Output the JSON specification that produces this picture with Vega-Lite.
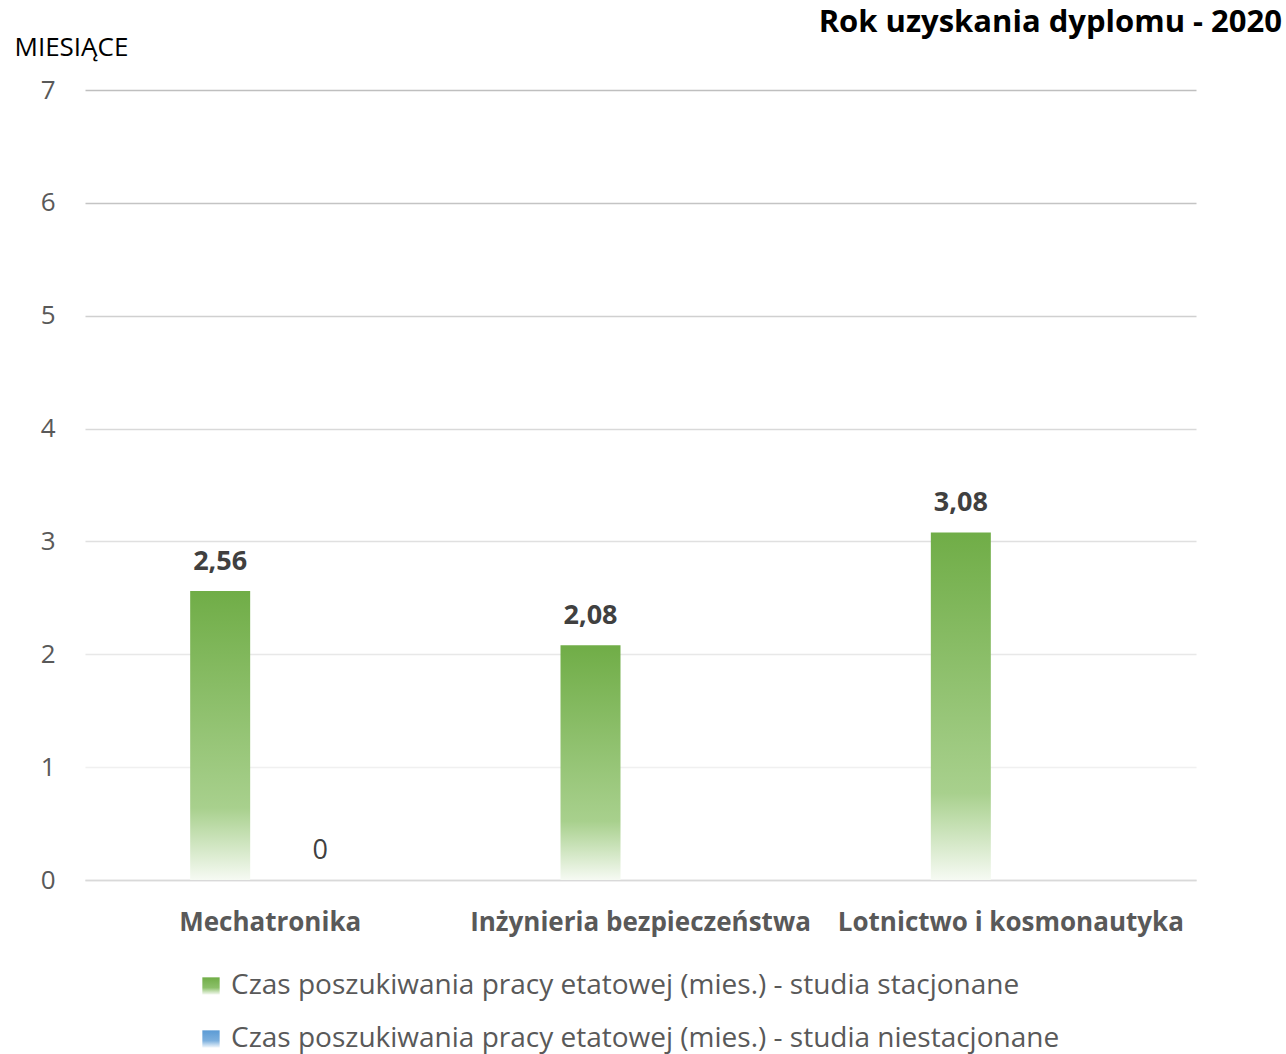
{
  "$schema": "https://vega.github.io/schema/vega-lite/v6.json",
  "width": 1111,
  "height": 790,
  "autosize": {"type": "none"},
  "padding": {"left": 85, "top": 90, "right": 90, "bottom": 174},
  "background": "white",
  "config": {
    "font": "Open Sans",
    "view": {"stroke": null},
    "locale": {"number": {"decimal": ",", "thousands": " ", "grouping": [3], "currency": ["", ""]}}
  },
  "title": {
    "text": "Rok uzyskania dyplomu - 2020",
    "anchor": "end",
    "frame": "group",
    "dx": 86,
    "fontSize": 31,
    "fontWeight": "bold",
    "color": "#000000",
    "font": "Open Sans",
    "offset": -5
  },
  "resolve": {"scale": {"shape": "independent"}, "legend": {"shape": "independent"}},
  "data": {
    "values": [
      {"kierunek": "Mechatronika", "seria": "Czas poszukiwania pracy etatowej (mies.) - studia stacjonane", "wartosc": 2.56},
      {"kierunek": "Mechatronika", "seria": "Czas poszukiwania pracy etatowej (mies.) - studia niestacjonane", "wartosc": 0},
      {"kierunek": "Inżynieria bezpieczeństwa", "seria": "Czas poszukiwania pracy etatowej (mies.) - studia stacjonane", "wartosc": 2.08},
      {"kierunek": "Lotnictwo i kosmonautyka", "seria": "Czas poszukiwania pracy etatowej (mies.) - studia stacjonane", "wartosc": 3.08}
    ]
  },
  "encoding": {
    "x": {
      "field": "kierunek",
      "type": "nominal",
      "sort": ["Mechatronika", "Inżynieria bezpieczeństwa", "Lotnictwo i kosmonautyka"],
      "scale": {"paddingInner": 0.46, "paddingOuter": 0.23},
      "axis": {
        "title": null,
        "labelAngle": 0,
        "labelFontSize": 26,
        "labelFontWeight": "bold",
        "labelColor": "#595959",
        "labelPadding": 29,
        "labelLimit": 0,
        "ticks": false,
        "domainColor": "#d9d9d9",
        "domainWidth": 1.5,
        "grid": false
      }
    },
    "xOffset": {
      "field": "seria",
      "type": "nominal",
      "sort": ["Czas poszukiwania pracy etatowej (mies.) - studia stacjonane", "Czas poszukiwania pracy etatowej (mies.) - studia niestacjonane"],
      "scale": {"paddingInner": 0.4, "paddingOuter": 0.2}
    },
    "y": {
      "field": "wartosc",
      "type": "quantitative",
      "scale": {"domain": [0, 7], "nice": false},
      "axis": {
        "values": [0, 1, 2, 3, 4, 5, 6, 7],
        "title": "MIESIĄCE",
        "titleAngle": 0,
        "titleAlign": "left",
        "titleBaseline": "middle",
        "titleX": -71,
        "titleY": -43,
        "titleFontSize": 26,
        "titleFontWeight": "normal",
        "titleColor": "#000000",
        "labelFontSize": 26,
        "labelColor": "#595959",
        "labelPadding": 30,
        "ticks": false,
        "domain": false,
        "gridColor": {
          "condition": [
            {"test": "datum.value == 7", "value": "#bfbfbf"},
            {"test": "datum.value == 6", "value": "#c4c4c4"},
            {"test": "datum.value == 5", "value": "#d0d0d0"},
            {"test": "datum.value == 4", "value": "#d9d9d9"},
            {"test": "datum.value == 3", "value": "#e0e0e0"},
            {"test": "datum.value == 2", "value": "#e8e8e8"},
            {"test": "datum.value == 1", "value": "#f0f0f0"}
          ],
          "value": "#d9d9d9"
        },
        "gridWidth": 1.5
      }
    }
  },
  "layer": [
    {
      "mark": {"type": "bar"},
      "encoding": {
        "fill": {
          "condition": {
            "test": "datum.seria == 'Czas poszukiwania pracy etatowej (mies.) - studia stacjonane'",
            "value": {"gradient": "linear", "x1": 0, "y1": 0, "x2": 0, "y2": 1, "stops": [{"offset": 0, "color": "#70AD47"}, {"offset": 0.75, "color": "#A8D08D"}, {"offset": 1, "color": "#F6FAF3"}]}
          },
          "value": {"gradient": "linear", "x1": 0, "y1": 0, "x2": 0, "y2": 1, "stops": [{"offset": 0, "color": "#5B9BD5"}, {"offset": 0.75, "color": "#9DC3E6"}, {"offset": 1, "color": "#F3F8FC"}]}
        }
      }
    },
    {
      "transform": [{"filter": "datum.seria == 'Czas poszukiwania pracy etatowej (mies.) - studia stacjonane'"}],
      "mark": {
        "type": "point",
        "filled": true,
        "opacity": 0,
        "strokeWidth": 0,
        "fill": {"gradient": "linear", "x1": 0, "y1": 0, "x2": 0, "y2": 1, "stops": [{"offset": 0, "color": "#70AD47"}, {"offset": 0.6, "color": "#8CC06A"}, {"offset": 1, "color": "#F6FAF3"}]}
      },
      "encoding": {
        "shape": {
          "field": "seria",
          "type": "nominal",
          "scale": {"range": ["square"]},
          "legend": {
            "orient": "none",
            "legendX": 112,
            "legendY": 882,
            "title": null,
            "symbolSize": 300,
            "symbolStrokeWidth": 0,
            "symbolOpacity": 1,
            "labelFontSize": 28,
            "labelColor": "#595959",
            "labelLimit": 0,
            "labelOffset": 6
          }
        }
      }
    },
    {
      "transform": [{"filter": "datum.seria == 'Czas poszukiwania pracy etatowej (mies.) - studia niestacjonane'"}],
      "mark": {
        "type": "point",
        "filled": true,
        "opacity": 0,
        "strokeWidth": 0,
        "fill": {"gradient": "linear", "x1": 0, "y1": 0, "x2": 0, "y2": 1, "stops": [{"offset": 0, "color": "#5B9BD5"}, {"offset": 0.6, "color": "#7DB0DE"}, {"offset": 1, "color": "#F3F8FC"}]}
      },
      "encoding": {
        "shape": {
          "field": "seria",
          "type": "nominal",
          "scale": {"range": ["square"]},
          "legend": {
            "orient": "none",
            "legendX": 112,
            "legendY": 935,
            "title": null,
            "symbolSize": 300,
            "symbolStrokeWidth": 0,
            "symbolOpacity": 1,
            "labelFontSize": 28,
            "labelColor": "#595959",
            "labelLimit": 0,
            "labelOffset": 6
          }
        }
      }
    },
    {
      "transform": [{"filter": "datum.wartosc > 0"}],
      "mark": {"type": "text", "baseline": "middle", "dy": -29, "fontSize": 27, "fontWeight": "bold", "color": "#404040"},
      "encoding": {"text": {"field": "wartosc", "type": "quantitative", "format": ".3~r"}}
    },
    {
      "transform": [{"filter": "datum.wartosc == 0"}],
      "mark": {"type": "text", "baseline": "middle", "dy": -29, "fontSize": 27, "fontWeight": "normal", "color": "#404040"},
      "encoding": {"text": {"field": "wartosc", "type": "quantitative", "format": ".3~r"}}
    }
  ]
}
